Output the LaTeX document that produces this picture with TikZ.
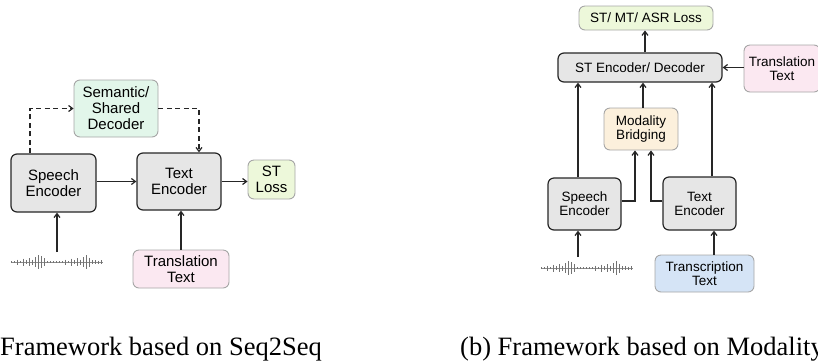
\documentclass[tikz,border=0pt]{standalone}
\usepackage{fontspec}
\setmainfont{Liberation Serif}
\setsansfont{Liberation Sans}
\usetikzlibrary{arrows.meta, positioning}

\definecolor{encgray}{HTML}{E6E6E6}
\definecolor{decgreen}{HTML}{E2F6EA}
\definecolor{lossgreen}{HTML}{EDF8DA}
\definecolor{textpink}{HTML}{FBE8F1}
\definecolor{bridgeorange}{HTML}{FCF0DC}
\definecolor{textblue}{HTML}{D5E4F6}

% waveform: centre x, centre y
\newcommand{\drawwave}[2]{%
  \draw[black!45, line width=0.5pt] (#1-46,#2) -- (#1+46,#2);
  \foreach \dx/\h in {0/1.5,3/2,6/5,9/2,12/7,15/4,18/8,21/5,24/10,27/14,30/12,33/8,36/2,39/1.5,42/2,45/1.5,48/2,51/1.5,54/5,57/2,60/7,63/4,66/8,69/5,72/10,75/14,78/9,81/4,84/4,87/3,90/4}
    {\draw[black!55, line width=1pt] (#1-46+\dx,#2-\h/2) -- (#1-46+\dx,#2+\h/2);}
}

\begin{document}
\begin{tikzpicture}[x=1pt, y=-1pt]
\tikzstyle{enc} = [draw=black!85, line width=1.2pt, fill=encgray, rounded corners=6pt, align=center, inner sep=2pt]
\tikzstyle{soft} = [draw=black!35, line width=0.9pt, rounded corners=6pt, align=center, inner sep=2pt]
\tikzstyle{bigtxt} = [font=\sffamily\fontsize{15}{16}\selectfont]
\tikzstyle{smalltxt} = [font=\sffamily\fontsize{13.5}{14}\selectfont]
\tikzstyle{connect} = [-{Straight Barb[length=4pt, width=6pt]}, line width=1.2pt, black!85]
\tikzstyle{dconnect} = [connect, dash pattern=on 5pt off 3.5pt]
\tikzstyle{caption} = [anchor=base west, inner sep=0pt, font=\fontsize{26.5}{30}\selectfont]
\useasboundingbox (0,0) rectangle (818,360);

% (a) seq2seq
\node[enc, bigtxt, minimum width=85pt, minimum height=58pt] (spenc) at (53.5,183) {Speech\\Encoder};
\node[enc, bigtxt, minimum width=84pt, minimum height=57pt] (txenc) at (179,181.5) {Text\\Encoder};
\node[soft, bigtxt, fill=decgreen, minimum width=84pt, minimum height=57pt] (semdec) at (116,108.5) {Semantic/\\Shared\\Decoder};
\node[soft, bigtxt, fill=lossgreen, minimum width=47pt, minimum height=39pt] (stloss) at (271.5,179.5) {ST\\Loss};
\node[soft, bigtxt, fill=textpink, minimum width=96pt, minimum height=38pt] (trtext) at (181,269) {Translation\\Text};
\drawwave{57}{262}
\coordinate (wave) at (57,252);

\draw[connect] (wave) -- (wave |- spenc.south);
\draw[connect] (spenc.east |- txenc.east) -- (txenc.east -| txenc.west);
\draw[connect] (txenc.east) -- (stloss.west |- txenc.east);
\draw[connect] (trtext.north) -- (trtext.north |- txenc.south);
\coordinate (dsrc) at ([xshift=-23.5pt]spenc.north);
\coordinate (ddst) at ([xshift=20pt]txenc.north);
\draw[dconnect] (dsrc) |- (semdec.west);
\draw[dconnect] (semdec.east) -| (ddst);

% (b) modality bridging
\node[soft, smalltxt, fill=lossgreen, minimum width=134pt, minimum height=24pt] (loss) at (646,18) {ST/ MT/ ASR Loss};
\node[enc, smalltxt, minimum width=164pt, minimum height=29pt] (stenc) at (640,67.5) {ST Encoder/ Decoder};
\node[soft, smalltxt, fill=textpink, minimum width=76pt, minimum height=47pt] (trtext2) at (782,68.5) {Translation\\Text};
\node[soft, smalltxt, fill=bridgeorange, minimum width=74pt, minimum height=42pt] (bridge) at (641,129) {Modality\\Bridging};
\node[enc, smalltxt, minimum width=73pt, minimum height=52pt] (spenc2) at (584.5,204) {Speech\\Encoder};
\node[enc, smalltxt, minimum width=73pt, minimum height=53pt] (txenc2) at (699.5,203.5) {Text\\Encoder};
\node[soft, smalltxt, fill=textblue, minimum width=99pt, minimum height=37pt] (trans) at (704.5,273.5) {Transcription\\Text};
\drawwave{587}{268}
\coordinate (wave2) at (578,257);

\coordinate (s2up) at (578,0);
\coordinate (t2up) at (712,0);
\coordinate (b2in) at (635,0);
\coordinate (b2in2) at (651,0);
\coordinate (b2out) at (643,0);
\coordinate (lossin) at (645,0);
\coordinate (trin) at (714,0);
\draw[connect] (wave2) -- (wave2 |- spenc2.south);
\draw[connect] (s2up |- spenc2.north) -- (s2up |- stenc.south);
\draw[connect] (spenc2.east |- 0,201) -| (b2in |- bridge.south);
\draw[connect] (txenc2.west |- 0,201) -| (b2in2 |- bridge.south);
\draw[connect] (b2out |- bridge.north) -- (b2out |- stenc.south);
\draw[connect] (t2up |- txenc2.north) -- (t2up |- stenc.south);
\draw[connect] (lossin |- stenc.north) -- (lossin |- loss.south);
\draw[connect] (trtext2.west |- stenc.east) -- (stenc.east);
\draw[connect] (trin |- trans.north) -- (trin |- txenc2.south);

% captions
\node[caption] (capa) at (0,355) {Framework based on Seq2Seq};
\node[caption] (capb) at (460,355) {(b) Framework based on Modality};
\end{tikzpicture}
\end{document}
